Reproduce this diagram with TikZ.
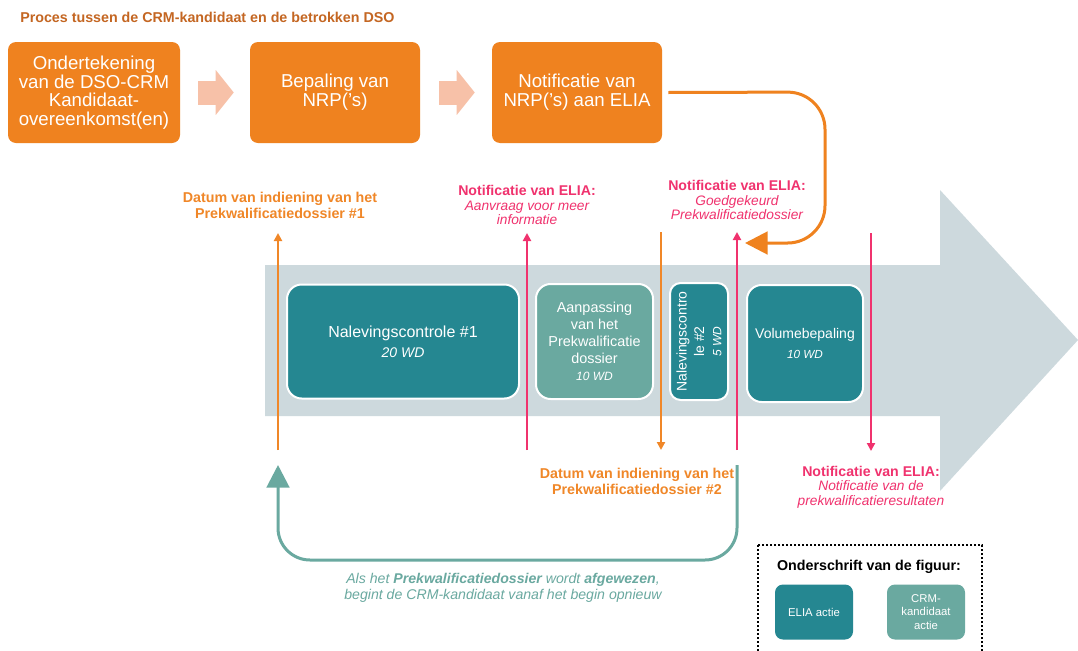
\documentclass[tikz,border=0pt]{standalone}
\usepackage{fontspec}
\setmainfont{Liberation Sans}
\usetikzlibrary{arrows.meta,calc}
\definecolor{boxor}{RGB}{239,130,31}
\definecolor{titlec}{RGB}{196,102,34}
\definecolor{chevc}{RGB}{247,193,168}
\definecolor{elia}{RGB}{37,135,145}
\definecolor{crmc}{RGB}{106,169,160}
\definecolor{bigarr}{RGB}{205,217,221}
\definecolor{pinkc}{RGB}{240,50,110}
\definecolor{orlbl}{RGB}{240,135,40}
\tikzset{
  orbox/.style={fill=boxor, rounded corners=6pt, minimum height=75.75pt, text=white, align=center, inner sep=0pt, font=\fontsize{14}{14}\selectfont},
  chevarrow/.style={chevc, line width=18pt, -{Triangle[length=13.5pt,width=33pt]}},
  eliabox/.style={fill=elia, draw=white, line width=1.5pt, rounded corners=11pt, text=white, align=center, inner sep=0pt},
  crmbox/.style={fill=crmc, draw=white, line width=1.5pt, rounded corners=11pt, text=white, align=center, inner sep=0pt},
  orline/.style={draw=orlbl, line width=1.5pt},
  pkline/.style={draw=pinkc, line width=1.5pt},
  smalltip/.style={-{Triangle[length=6pt,width=6pt]}},
  orlabel/.style={text=orlbl, align=center, font=\fontsize{10.7}{12}\selectfont\bfseries},
  pklabel/.style={text=pinkc, align=center, font=\fontsize{10.3}{11}\selectfont},
}
\begin{document}
\begin{tikzpicture}[x=0.75pt,y=-0.75pt]
\clip (0,0) rectangle (1078,650);
\fill[white] (0,0) rectangle (1078,650);

% title
\node[anchor=west, text=titlec, font=\fontsize{10.7}{12}\selectfont\bfseries, inner sep=0pt] (title) at (20,17) {Proces tussen de CRM-kandidaat en de betrokken DSO};

% orange process boxes
\node[orbox, minimum width=129pt] (n1) at (94,92.5) {Ondertekening\\van de DSO-CRM\\Kandidaat-\\overeenkomst(en)};
\node[orbox, minimum width=127.5pt] (n2) at (335,92.5) {Bepaling van\\NRP('s)};
\node[orbox, minimum width=127.5pt] (n3) at (577,92.5) {Notificatie van\\NRP('s) aan ELIA};

\draw[chevarrow] ($(n1.east)+(18,0)$) -- ($(n2.west)+(-16,0)$);
\draw[chevarrow] ($(n2.east)+(19,0)$) -- ($(n3.west)+(-17,0)$);

% big grey arrow
\fill[bigarr] (265,265) -- (940,265) -- (940,190) -- (1078,340) -- (940,491) -- (940,416) -- (265,416) -- cycle;

% main boxes
\node[eliabox, minimum width=174pt, minimum height=85.5pt, font=\fontsize{12}{15}\selectfont] (c1) at (403,341.5) {Nalevingscontrole \#1\\{\itshape\fontsize{10.5}{15}\selectfont 20 WD}};
\node[crmbox, minimum width=87.75pt, minimum height=86.25pt, font=\fontsize{10.8}{12.75}\selectfont] (c2) at (594.5,341.5) {Aanpassing\\van het\\Prekwalificatie\\dossier\\{\itshape\fontsize{9}{12.75}\selectfont 10 WD}};
\node[eliabox, rounded corners=8pt, minimum width=43.5pt, minimum height=87.75pt] (c3) at (699,341.5) {};
\node[rotate=90, text=white, align=center, font=\fontsize{10.5}{13}\selectfont, inner sep=0pt] (c3t) at (c3.center) {Nalevingscontro\\le \#2\\{\itshape\fontsize{9}{11}\selectfont 5 WD}};
\node[eliabox, minimum width=87pt, minimum height=87.75pt, font=\fontsize{10.5}{15}\selectfont] (c4) at (805,343.5) {Volumebepaling\\{\itshape\fontsize{8.8}{15}\selectfont 10 WD}};

% labels
\node[orlabel] (d1) at (280,205) {Datum van indiening van het\\Prekwalificatiedossier \#1};
\node[pklabel] (p1) at (527,205) {{\bfseries\fontsize{10.6}{11}\selectfont Notificatie van ELIA:}\\{\itshape Aanvraag voor meer}\\{\itshape informatie}};
\node[pklabel] (p2) at (737,200) {{\bfseries\fontsize{10.6}{11}\selectfont Notificatie van ELIA:}\\{\itshape Goedgekeurd}\\{\itshape Prekwalificatiedossier}};
\node[orlabel] (d2) at (637,481) {Datum van indiening van het\\Prekwalificatiedossier \#2};
\node[pklabel] (p3) at (871,487) {{\bfseries\fontsize{10.6}{11}\selectfont Notificatie van ELIA:}\\{\itshape Notificatie van de}\\{\itshape prekwalificatieresultaten}};
\node[text=crmc, align=center, font=\fontsize{10.6}{11.5}\selectfont\itshape] (cap) at (503,588) {Als het \textbf{Prekwalificatiedossier} wordt \textbf{afgewezen},\\begint de CRM-kandidaat vanaf het begin opnieuw};

% vertical event lines
\coordinate (v1b) at (278,450); \coordinate (v1t) at (278,233);
\coordinate (v2b) at (527,450); \coordinate (v2t) at (527,233);
\coordinate (v3t) at (661,232); \coordinate (v3b) at (661,450);
\coordinate (v4b) at (737,450); \coordinate (v4t) at (737,232);
\coordinate (v5t) at (871,233); \coordinate (v5b) at (871,451);
\draw[orline, smalltip] (v1b) -- (v1t);
\draw[pkline, smalltip] (v2b) -- (v2t);
\draw[orline, smalltip] (v3t) -- (v3b);
\draw[pkline, smalltip] (v4b) -- (v4t);
\draw[pkline, smalltip] (v5t) -- (v5b);

% orange connector from n3
\coordinate (oc1) at (825,92);
\coordinate (oc2) at (825,243);
\coordinate (oend) at (745,243);
\draw[draw=boxor, line width=2.25pt, rounded corners=28pt, -{Triangle[length=17pt,width=17pt]}] ($(n3.east)+(6,0)$) -- (oc1) -- (oc2) -- (oend);

% teal return connector
\coordinate (rs) at (737,465);
\coordinate (rc1) at (737,560);
\coordinate (rc2) at (278,560);
\coordinate (re) at (278,465);
\draw[draw=crmc, line width=2.25pt, rounded corners=24pt, -{Triangle[length=17pt,width=17pt]}] (rs) -- (rc1) -- (rc2) -- (re);

% legend
\draw[line width=1.6pt, dash pattern=on 1.6pt off 1.4pt] (758,545) rectangle (982,680);
\node[font=\fontsize{10.7}{12}\selectfont\bfseries] (legt) at (869,567) {Onderschrift van de figuur:};
\node[fill=elia, rounded corners=6pt, minimum width=58.5pt, minimum height=41.25pt, text=white, align=center, inner sep=0pt, font=\fontsize{8.5}{10}\selectfont] (leg1) at (814,612) {ELIA actie};
\node[fill=crmc, rounded corners=6pt, minimum width=58.5pt, minimum height=41.25pt, text=white, align=center, inner sep=0pt, font=\fontsize{8.5}{10}\selectfont] (leg2) at (926,612) {CRM-\\kandidaat\\actie};
\end{tikzpicture}
\end{document}
